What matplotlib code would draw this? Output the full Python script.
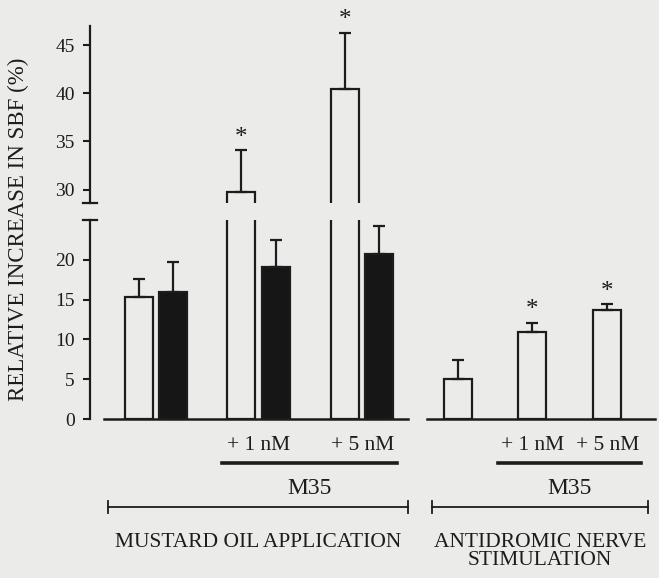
import numpy as np
import matplotlib
matplotlib.use("Agg")
from matplotlib import pyplot as plt
from matplotlib import transforms

# Mean relative increase in SBF (%) and upper SEM, bar by bar
conditions = ["MO", "MO", "MO+1", "MO+1", "MO+5", "MO+5", "AN", "AN+1", "AN+5"]
means = [15.3, 16.0, 29.7, 19.1, 40.5, 20.7, 5.0, 10.9, 13.7]
errors = [2.3, 3.7, 4.4, 3.4, 5.8, 3.5, 2.4, 1.2, 0.7]
filled = [False, True, False, True, False, True, False, False, False]
significant = [False, False, True, False, True, False, False, True, True]

dose_labels = ["+ 1 nM", "+ 5 nM", "+ 1 nM", "+ 5 nM"]
group_labels = ["MUSTARD OIL APPLICATION", "ANTIDROMIC NERVE\nSTIMULATION"]
drug = "M35"

lower_ticks = [0, 5, 10, 15, 20]
upper_ticks = [30, 35, 40, 45]

# layout (x in pixel-like units from the y spine)
xpos = np.array([49, 83.5, 151.5, 186.5, 255, 289.5, 368.5, 442.5, 517.5])
width = 28
dose_x = [(xpos[2] + xpos[3]) / 2, (xpos[4] + xpos[5]) / 2, xpos[7], xpos[8]]
baselines = [(14, 318), (337, 565)]
underlines = [(132, 307), (408, 551)]
brackets = [(18, 318), (342, 558)]

plt.rcParams["font.family"] = ["Liberation Serif", "DejaVu Serif"]
W, H = 659, 578
fig = plt.figure(figsize=(W / 100, H / 100), dpi=100)
bg = "#ebebea"
fig.patch.set_facecolor(bg)

left = 90 / W
ax_lo = fig.add_axes([left, (H - 419) / H, 1 - left, (419 - 220) / H])
ax_hi = fig.add_axes([left, (H - 203) / H, 1 - left, (203 - 26) / H])

ink = "#1c1c1c"
for ax, lim, ticks in [(ax_lo, (0, 25), lower_ticks), (ax_hi, (28.6, 47.0), upper_ticks)]:
    ax.set_facecolor("none")
    ax.set_xlim(0, W - 90)
    ax.set_ylim(*lim)
    ax.set_yticks(ticks)
    ax.set_xticks([])
    for s in ["top", "right", "bottom"]:
        ax.spines[s].set_visible(False)
    ax.spines["left"].set_linewidth(1.6)
    ax.spines["left"].set_color(ink)
    ax.tick_params(axis="y", length=5, width=1.5, pad=6, labelsize=14, colors=ink)

    for x, m, e, f in zip(xpos, means, errors, filled):
        fc = "#161616" if f else bg
        ax.bar(x, m, width=width, color=fc, edgecolor=ink, linewidth=1.6, zorder=2)
        ax.errorbar(x, m, yerr=[[0], [e]], fmt="none", ecolor=ink,
                    elinewidth=1.6, capsize=4.5, capthick=1.6, zorder=3)

# break caps on the y spine
ax_lo.plot([-7, 7], [25, 25], color=ink, lw=1.6, clip_on=False)
ax_hi.plot([-7, 7], [28.6, 28.6], color=ink, lw=1.6, clip_on=False)

# zero baselines under each group
for x0, x1 in baselines:
    ax_lo.plot([x0, x1], [0, 0], color=ink, lw=1.8, clip_on=False, zorder=4)

# significance stars
for x, m, e, s in zip(xpos, means, errors, significant):
    if not s:
        continue
    top = m + e
    ax = ax_hi if top > 25 else ax_lo
    ax.annotate("*", (x, top), xytext=(0, 9), textcoords="offset points",
                ha="center", va="center", fontsize=18, color=ink)

# labels under the axis
tr = transforms.blended_transform_factory(ax_lo.transData, fig.transFigure)
fy = lambda py: 1 - py / H

for x, lab in zip(dose_x, dose_labels):
    fig.text(x, fy(445), lab, transform=tr, ha="center", va="center", fontsize=15.5, color=ink)

for (x0, x1) in underlines:
    ax_lo.plot([x0, x1], [fy(463)] * 2, transform=tr, color=ink, lw=2.6, clip_on=False)
    fig.text((x0 + x1) / 2, fy(489), drug, transform=tr, ha="center", va="center",
             fontsize=17, color=ink)

for (x0, x1), lab in zip(brackets, group_labels):
    ax_lo.plot([x0, x1], [fy(507)] * 2, transform=tr, color=ink, lw=1.3, clip_on=False)
    for xe in (x0, x1):
        ax_lo.plot([xe, xe], [fy(501), fy(513)], transform=tr, color=ink, lw=1.3, clip_on=False)
    fig.text((x0 + x1) / 2, fy(533), lab, transform=tr, ha="center", va="top",
             fontsize=15.5, color=ink, linespacing=0.95)

fig.text(18 / W, fy(229), "RELATIVE INCREASE IN SBF (%)", rotation=90,
         ha="center", va="center", fontsize=16.5, color=ink)

fig.savefig("out.png", dpi=100, facecolor=bg)
